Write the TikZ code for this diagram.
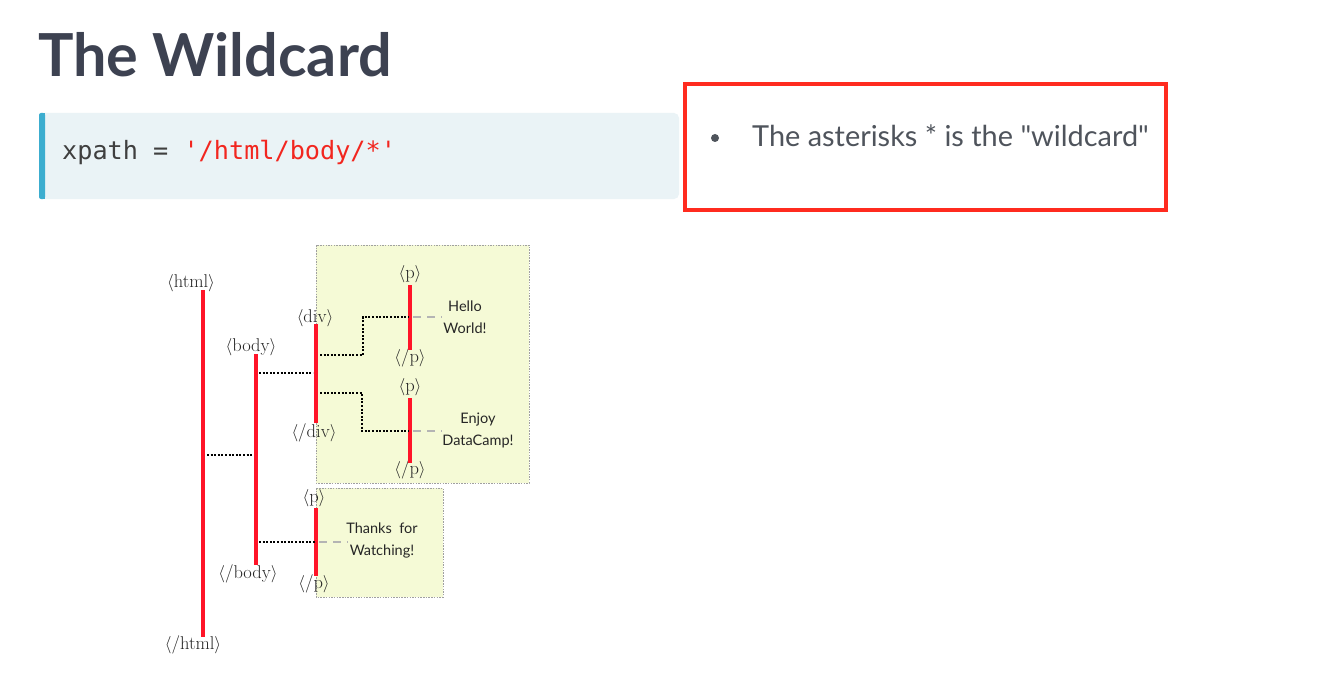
\documentclass[tikz,border=0pt]{standalone}
\usepackage{fontspec}
\setmainfont{Lato}[Ligatures=TeXOff]
\newfontfamily\codefont{DejaVu Sans Mono}[Ligatures=TeXOff]
\newfontfamily\tagfont{Latin Modern Roman}
\newfontfamily\leaffont{Lato}
\definecolor{titlecol}{HTML}{3D4251}
\definecolor{codebg}{HTML}{EAF3F6}
\definecolor{codebar}{HTML}{3CADCF}
\definecolor{codetxt}{HTML}{3F3F3F}
\definecolor{codered}{HTML}{F2261F}
\definecolor{boxred}{HTML}{FF2B1F}
\definecolor{bullettxt}{HTML}{4F545C}
\definecolor{treered}{HTML}{FF1428}
\definecolor{leafbg}{HTML}{F5FAD6}
\definecolor{leafborder}{HTML}{A0A0A0}
\definecolor{dashgray}{HTML}{B4B4B4}
\tikzset{
  tagline/.style={draw=treered, line width=4.5pt},
  tag/.style={inner sep=0pt, font=\tagfont\fontsize{18.5}{18.5}\selectfont, text=black!85},
  leaf/.style={inner sep=0pt, align=center, font=\leaffont\fontsize{14.5}{22}\selectfont, text=black!85},
  dotlink/.style={draw=black, line width=2pt, dash pattern=on 2pt off 1.6pt},
  graylink/.style={draw=dashgray, line width=2pt, dash pattern=on 8pt off 6pt},
  leafbox/.style={fill=leafbg, draw=leafborder, line width=0.8pt, dash pattern=on 1.5pt off 1.2pt},
}
\begin{document}
\begin{tikzpicture}[x=1pt, y=-1pt]
\useasboundingbox (0,0) rectangle (1342,690);
\fill[white] (0,0) rectangle (1342,690);

% title
\node[anchor=base west, inner sep=0pt, text=titlecol, font=\fontsize{59.3}{59.3}\selectfont\bfseries] (title) at (38,77) {The Wildcard};

% code box
\fill[codebg, rounded corners=5pt] (39,113) rectangle (679,199);
\fill[codebar, rounded corners=2pt] (39,113) rectangle (45,199);
\fill[codebar] (42,113) rectangle (45,199);
\node[anchor=base west, inner sep=0pt, font=\codefont\fontsize{25.2}{25.2}\selectfont, text=codetxt] (code) at (62,160) {xpath = \textcolor{codered}{'/html/body/*'}};

% red box with bullet
\draw[boxred, line width=4pt] (685,84) rectangle (1166,210);
\fill[bullettxt] (715,138) circle (4);
\node[anchor=base west, inner sep=0pt, text=bullettxt, font=\fontsize{28.9}{28.9}\selectfont] (bullet) at (752,147) {The asterisks * is the "wildcard"};

% leaf boxes
\path[leafbox] (316,245) rectangle (529,483);
\path[leafbox] (316,488) rectangle (443,597);

% tags
\node[tag] (htmlo) at (191,283) {$\langle$html$\rangle$};
\node[tag] (htmlc) at (193,645) {$\langle$/html$\rangle$};
\node[tag] (bodyo) at (251,347) {$\langle$body$\rangle$};
\node[tag] (bodyc) at (248,574) {$\langle$/body$\rangle$};
\node[tag] (divo) at (315,318) {$\langle$div$\rangle$};
\node[tag] (divc) at (314,433) {$\langle$/div$\rangle$};
\node[tag] (p1o) at (410,274) {$\langle$p$\rangle$};
\node[tag] (p1c) at (410,358) {$\langle$/p$\rangle$};
\node[tag] (p2o) at (410,387) {$\langle$p$\rangle$};
\node[tag] (p2c) at (410,470) {$\langle$/p$\rangle$};
\node[tag] (p3o) at (314,498) {$\langle$p$\rangle$};
\node[tag] (p3c) at (314,584) {$\langle$/p$\rangle$};

% tag lines
\coordinate (htmlA) at (203,290); \coordinate (htmlB) at (203,637);
\coordinate (bodyA) at (256,354); \coordinate (bodyB) at (256,565);
\coordinate (divA) at (316,324);  \coordinate (divB) at (316,423);
\coordinate (p1A) at (410,285);   \coordinate (p1B) at (410,350);
\coordinate (p2A) at (410,398);   \coordinate (p2B) at (410,463);
\coordinate (p3A) at (316,508);   \coordinate (p3B) at (316,576);
\draw[tagline] (htmlA) -- (htmlB);
\draw[tagline] (bodyA) -- (bodyB);
\draw[tagline] (divA) -- (divB);
\draw[tagline] (p1A) -- (p1B);
\draw[tagline] (p2A) -- (p2B);
\draw[tagline] (p3A) -- (p3B);

% leaf texts
\node[leaf] (hello) at (465,317) {Hello\\World!};
\node[leaf] (enjoy) at (478,430) {Enjoy\\DataCamp!};
\node[leaf] (thanks) at (382,540) {Thanks\ \ for\\Watching!};

% dotted links
\coordinate (h1) at (207,455); \coordinate (b1) at (253,455);
\coordinate (b2) at (259,373); \coordinate (d2) at (313,373);
\coordinate (d3) at (320,355); \coordinate (p1m) at (409,317);
\coordinate (d4) at (320,393); \coordinate (p2m) at (409,431);
\coordinate (b5) at (259,542); \coordinate (p3m) at (315,542);
\draw[dotlink] (h1) -- (b1);
\draw[dotlink] (b2) -- (d2);
\draw[dotlink] (d3) -- (363,355) -- (363,317) -- (p1m);
\draw[dotlink] (d4) -- (362,393) -- (362,431) -- (p2m);
\draw[dotlink] (b5) -- (p3m);

% gray dashed links
\draw[graylink] (413,317) -- (442,317);
\draw[graylink] (413,431) -- (442,431);
\draw[graylink] (319,542) -- (348,542);
\end{tikzpicture}
\end{document}
